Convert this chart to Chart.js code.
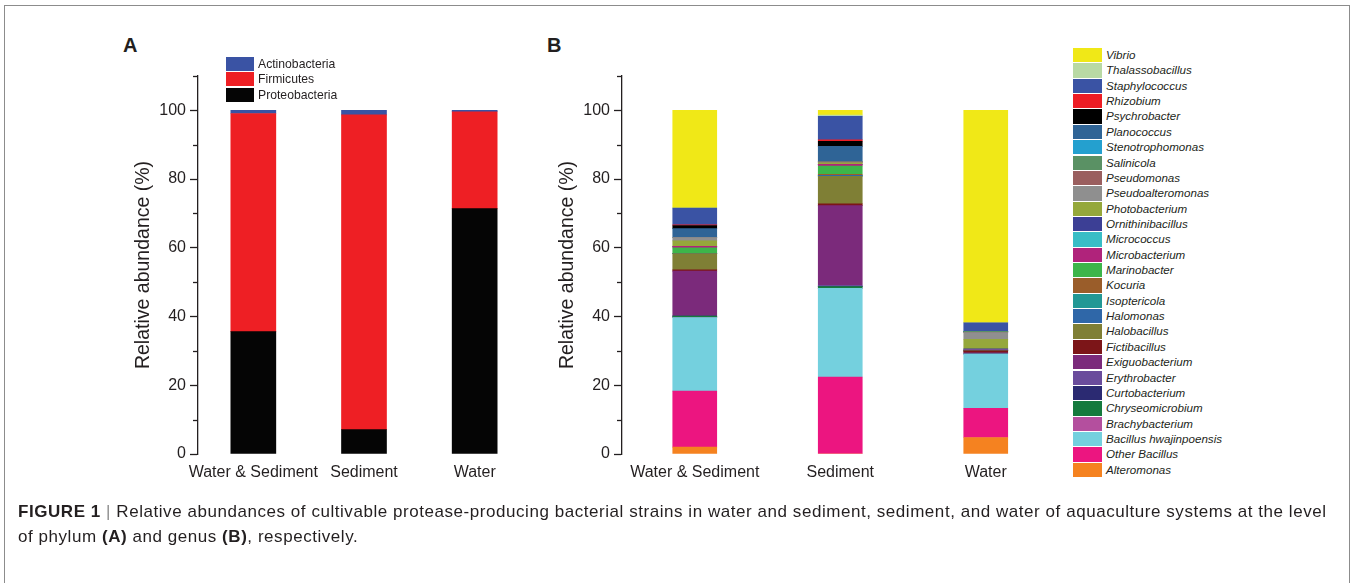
<!DOCTYPE html>
<html>
<head>
<meta charset="utf-8">
<script src="https://cdn.jsdelivr.net/npm/chart.js@4.4.1/dist/chart.umd.min.js"></script>
<style>
  body { margin: 0; width: 1355px; height: 583px; background: #fff; overflow: hidden; position: relative; font-family: "Liberation Sans", Arial, sans-serif; color: #231f20; }
  #frame { position: absolute; left: 4px; top: 5px; width: 1346px; height: 700px; border: 1px solid #8c8c8c; box-sizing: border-box; }
  canvas { position: absolute; }
  .panel { position: absolute; top: 34px; font-weight: bold; font-size: 20px; }
  .legend { position: absolute; }
  .legend .row { position: absolute; left: 0; height: 15px; white-space: nowrap; }
  .legend .box { position: absolute; left: 0; top: 0; }
  .legend .txt { position: absolute; top: 0; line-height: 14px; }
  #legendB .txt { font-style: italic; font-size: 11.6px; left: 33px; }
  #legendA .txt { font-size: 12.2px; left: 32px; }
  #caption { position: absolute; left: 18px; top: 499px; font-size: 17px; letter-spacing: 0.55px; line-height: 25px; white-space: nowrap; color: #231f20; }
  #caption .sep { color: #8c8c8c; }
</style>
</head>
<body>
<div id="frame"></div>
<div class="panel" style="left:123px">A</div>
<div class="panel" style="left:547px">B</div>
<canvas id="chartA" width="440" height="470" style="left:100px;top:30px"></canvas>
<canvas id="chartB" width="525" height="470" style="left:540px;top:30px"></canvas>
<div id="legendA" class="legend" style="left:226px;top:57px"></div>
<div id="legendB" class="legend" style="left:1073px;top:48px"></div>
<div id="caption"><b>FIGURE 1</b> <span class="sep">|</span> Relative abundances of cultivable protease-producing bacterial strains in water and sediment, sediment, and water of aquaculture systems at the level<br>of phylum <b>(A)</b> and genus <b>(B)</b>, respectively.</div>
<script>
// Categories (same for both panels)
const sites = ['Water & Sediment', 'Sediment', 'Water'];
const axisTitle = 'Relative abundance (%)';
const minorTickValues = [10, 30, 50, 70, 90, 110];

// Panel A: phylum level (bottom to top)
const phyla = ['Proteobacteria', 'Firmicutes', 'Actinobacteria'];
const phylumColors = ['#050505', '#ee1f24', '#3a53a4'];
const proteobacteria = [35.6, 7.1, 71.4];
const firmicutes = [63.5, 91.6, 28.2];
const actinobacteria = [0.9, 1.3, 0.4];

// Panel B: genus level (bottom to top), values per site
const genera = ['Alteromonas', 'Other Bacillus', 'Bacillus hwajinpoensis', 'Brachybacterium', 'Chryseomicrobium',
  'Curtobacterium', 'Erythrobacter', 'Exiguobacterium', 'Fictibacillus', 'Halobacillus', 'Halomonas',
  'Isoptericola', 'Kocuria', 'Marinobacter', 'Microbacterium', 'Micrococcus', 'Ornithinibacillus',
  'Photobacterium', 'Pseudoalteromonas', 'Pseudomonas', 'Salinicola', 'Stenotrophomonas', 'Planococcus',
  'Psychrobacter', 'Rhizobium', 'Staphylococcus', 'Thalassobacillus', 'Vibrio'];
const genusColors = ['#f58220', '#ec1580', '#74d0de', '#b44f9e', '#157a3d',
  '#2b2a72', '#6a4c9c', '#7b2a7b', '#7c1518', '#7f7f35', '#2f67a8',
  '#229895', '#9a5d2a', '#3db54a', '#b0237b', '#38bdc6', '#3c3f95',
  '#95a83b', '#8f8f8f', '#9a5f5f', '#5a9164', '#24a0cf', '#2f6496',
  '#000000', '#ed1c24', '#3a53a4', '#b9d9a4', '#f0e817'];
const alteromonas = [2.0, 0, 4.8];
const otherBacillus = [16.3, 22.4, 8.5];
const bacillusHwajinpoensis = [21.4, 25.8, 15.8];
const brachybacterium = [0, 0, 0];
const chryseomicrobium = [0.4, 0.5, 0];
const curtobacterium = [0, 0, 0];
const erythrobacter = [0, 0.4, 0.3];
const exiguobacterium = [13.1, 23.2, 0];
const fictibacillus = [0.4, 0.5, 0.6];
const halobacillus = [4.7, 8.0, 0];
const halomonas = [0, 0.3, 0];
const isoptericola = [0, 0, 0];
const kocuria = [0, 0.3, 0];
const marinobacter = [1.7, 2.4, 0];
const microbacterium = [0.4, 0.5, 0.3];
const micrococcus = [0, 0, 0];
const ornithinibacillus = [0, 0, 0.3];
const photobacterium = [1.6, 0.4, 2.8];
const pseudoalteromonas = [1.0, 0, 1.9];
const pseudomonas = [0, 0.3, 0];
const salinicola = [0, 0, 0.4];
const stenotrophomonas = [0, 0, 0];
const planococcus = [2.6, 4.5, 0];
const psychrobacter = [0.9, 1.5, 0];
const rhizobium = [0.2, 0.4, 0];
const staphylococcus = [4.9, 6.9, 2.5];
const thalassobacillus = [0, 0.3, 0];
const vibrio = [28.4, 1.4, 61.8];

const genusValues = [alteromonas, otherBacillus, bacillusHwajinpoensis, brachybacterium, chryseomicrobium,
  curtobacterium, erythrobacter, exiguobacterium, fictibacillus, halobacillus, halomonas,
  isoptericola, kocuria, marinobacter, microbacterium, micrococcus, ornithinibacillus,
  photobacterium, pseudoalteromonas, pseudomonas, salinicola, stenotrophomonas, planococcus,
  psychrobacter, rhizobium, staphylococcus, thalassobacillus, vibrio];

const ink = '#231f20';
Chart.defaults.font.family = '"Liberation Sans", Arial, sans-serif';
Chart.defaults.color = ink;

// short minor tick marks on the y axis
const minorTicks = {
    id: 'minorTicks',
    afterDraw(chart) {
        const ctx = chart.ctx;
        const x0 = chart.chartArea.left;
        ctx.save();
        ctx.strokeStyle = ink;
        ctx.lineWidth = 1.3;
        minorTickValues.forEach(v => {
            const py = Math.round(chart.scales.y.getPixelForValue(v)) + 0.5;
            ctx.beginPath();
            ctx.moveTo(x0 - 5, py);
            ctx.lineTo(x0, py);
            ctx.stroke();
        });
        ctx.restore();
    }
};

function buildOptions(axisWidth, titleOffset, rightPad) {
    return {
        responsive: false,
        animation: false,
        layout: { padding: { top: 46, right: rightPad, bottom: 0, left: 0 } },
        plugins: { legend: { display: false }, tooltip: { enabled: false } },
        scales: {
            x: {
                stacked: true,
                grid: { display: false, drawTicks: false },
                border: { display: false },
                ticks: { font: { size: 16 }, color: ink, padding: 9, maxRotation: 0, autoSkip: false },
                afterFit: scale => { scale.height = 46; }
            },
            y: {
                stacked: true,
                min: 0,
                max: 110,
                border: { display: true, color: ink, width: 1.3 },
                grid: {
                    drawOnChartArea: false,
                    tickLength: 8,
                    tickWidth: 1.3,
                    tickColor: c => (c.tick && c.tick.value % 20 === 0) ? ink : 'rgba(0,0,0,0)'
                },
                ticks: {
                    stepSize: 10,
                    font: { size: 16 },
                    color: ink,
                    padding: 4,
                    callback: v => (v % 20 === 0 ? v : '')
                },
                title: {
                    display: true,
                    text: axisTitle,
                    font: { size: 19.5 },
                    color: ink,
                    padding: { top: titleOffset, bottom: 0 }
                },
                afterFit: scale => { scale.width = axisWidth; }
            }
        }
    };
}

// Panel A
const phylumValues = [proteobacteria, firmicutes, actinobacteria];
new Chart(document.getElementById('chartA').getContext('2d'), {
    type: 'bar',
    data: {
        labels: sites,
        datasets: phyla.map((name, i) => ({
            label: name,
            data: phylumValues[i],
            backgroundColor: phylumColors[i],
            borderWidth: 0,
            barThickness: 45
        }))
    },
    options: buildOptions(98, 32, 10),
    plugins: [minorTicks]
});

// Panel B
new Chart(document.getElementById('chartB').getContext('2d'), {
    type: 'bar',
    data: {
        labels: sites,
        datasets: genera.map((name, i) => ({
            label: name,
            data: genusValues[i],
            backgroundColor: genusColors[i],
            borderWidth: 0,
            barThickness: 44
        }))
    },
    options: buildOptions(82, 16, 6.5),
    plugins: [minorTicks]
});

// Legends (top item = last stacked series)
function buildLegend(el, names, colors, step, boxW, boxH) {
    const n = names.length;
    for (let k = 0; k < n; k++) {
        const i = n - 1 - k;
        const row = document.createElement('div');
        row.className = 'row';
        row.style.top = (k * step) + 'px';
        const box = document.createElement('div');
        box.className = 'box';
        box.style.width = boxW + 'px';
        box.style.height = boxH + 'px';
        box.style.background = colors[i];
        const txt = document.createElement('div');
        txt.className = 'txt';
        txt.textContent = names[i];
        row.appendChild(box);
        row.appendChild(txt);
        el.appendChild(row);
    }
}
buildLegend(document.getElementById('legendA'), phyla, phylumColors, 15.3, 28, 14);
buildLegend(document.getElementById('legendB'), genera, genusColors, 15.36, 29, 14.3);
</script>
</body>
</html>
